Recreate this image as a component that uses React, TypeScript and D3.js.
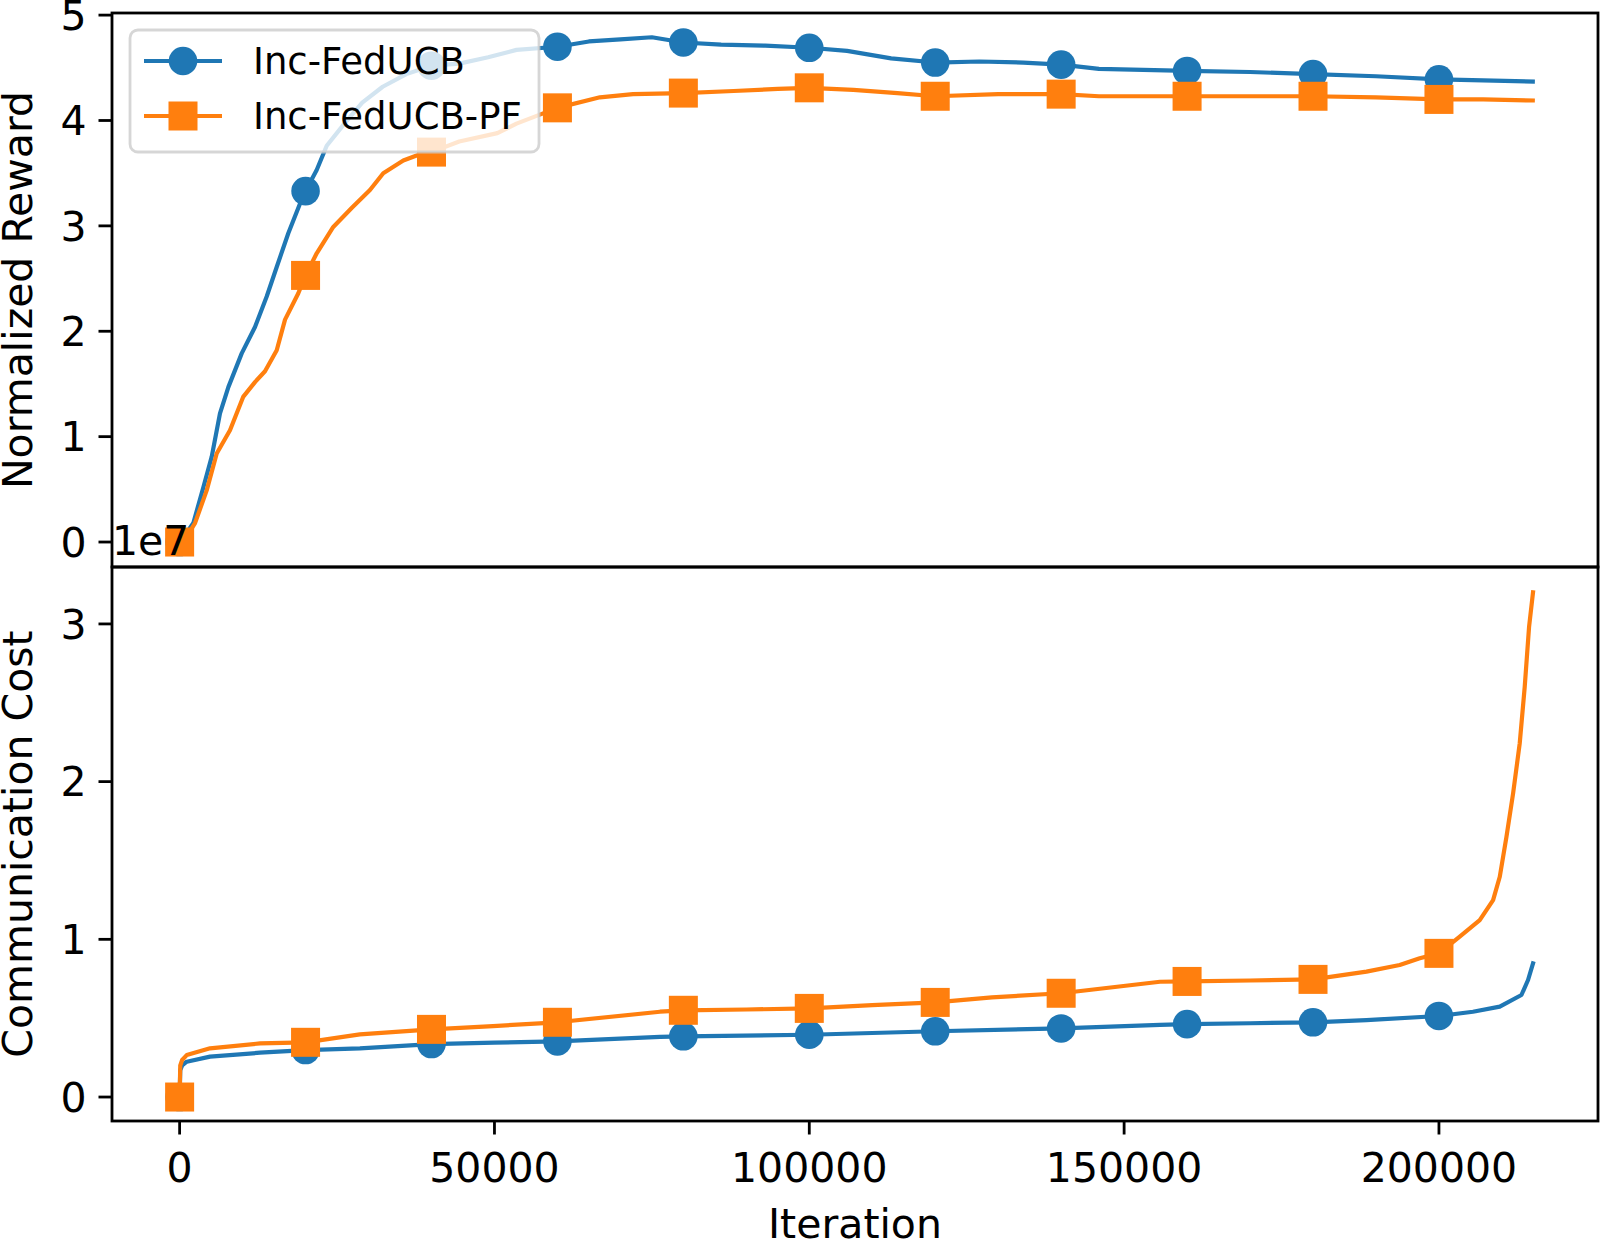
import React, { useEffect, useRef } from "react";
import * as d3 from "d3";

const WIDTH = 1600;
const HEIGHT = 1247;

// Normalized reward, [iteration, value]
const rewardFedUCB: [number, number][] = [
  [0, 0.0], [1000, 0.08], [2180, 0.18], [3770, 0.52], [5100, 0.81], [6410, 1.22],
  [7740, 1.47], [9860, 1.79], [11970, 2.04], [13830, 2.33], [15420, 2.61], [17260, 2.93],
  [19110, 3.21], [20000, 3.33], [21770, 3.53], [23360, 3.76], [26170, 3.97], [29000, 4.17],
  [32250, 4.32], [36000, 4.44], [40000, 4.52], [44400, 4.54], [49000, 4.6], [53500, 4.67],
  [60000, 4.7], [65000, 4.75], [70000, 4.77], [75000, 4.79], [80000, 4.74], [86000, 4.72],
  [93000, 4.71], [100000, 4.69], [106000, 4.66], [113000, 4.59], [120000, 4.55], [127000, 4.56],
  [134000, 4.55], [140000, 4.53], [146000, 4.49], [153000, 4.48], [160000, 4.47], [170000, 4.46],
  [180000, 4.44], [190000, 4.42], [200000, 4.39], [207000, 4.38], [214900, 4.37],
];

const rewardFedUCBPF: [number, number][] = [
  [0, 0.0], [1200, 0.06], [2450, 0.18], [4300, 0.49], [5890, 0.84], [8000, 1.06],
  [10120, 1.38], [12000, 1.52], [13560, 1.62], [15420, 1.82], [16740, 2.11], [18850, 2.36],
  [20000, 2.53], [21770, 2.74], [24400, 2.99], [27320, 3.17], [30230, 3.34], [32340, 3.5],
  [35520, 3.62], [38170, 3.68], [40000, 3.7], [44400, 3.8], [50470, 3.88], [53500, 3.97],
  [60000, 4.12], [66750, 4.22], [72000, 4.25], [80000, 4.26], [88000, 4.28], [95000, 4.3],
  [100000, 4.31], [107000, 4.29], [114000, 4.26], [120000, 4.23], [130000, 4.25], [140000, 4.25],
  [146000, 4.23], [160000, 4.23], [170000, 4.23], [180000, 4.23], [190000, 4.22], [200000, 4.2],
  [207000, 4.2], [214900, 4.19],
];

// Communication cost, in units of 1e7
const costFedUCB: [number, number][] = [
  [0, 0], [100, 0.17], [400, 0.2], [1130, 0.224], [4830, 0.256], [12770, 0.281],
  [20000, 0.298], [28630, 0.309], [40000, 0.336], [50000, 0.345], [60000, 0.353], [76280, 0.382],
  [80000, 0.385], [100000, 0.395], [120000, 0.417], [140000, 0.435], [155700, 0.457], [160000, 0.462],
  [170000, 0.468], [180000, 0.474], [188490, 0.488], [200000, 0.514], [205400, 0.541], [209660, 0.573],
  [213100, 0.647], [214150, 0.742], [214940, 0.848],
];

const costFedUCBPF: [number, number][] = [
  [0, 0], [100, 0.2], [400, 0.235], [1130, 0.266], [4830, 0.309], [12770, 0.34],
  [20000, 0.347], [28630, 0.397], [40000, 0.429], [49770, 0.45], [60000, 0.474], [76280, 0.541],
  [80000, 0.55], [90000, 0.555], [100000, 0.562], [110000, 0.583], [120000, 0.6], [129000, 0.632],
  [140000, 0.658], [155700, 0.731], [160000, 0.733], [170000, 0.739], [180000, 0.746], [188490, 0.795],
  [193770, 0.837], [196950, 0.88], [200000, 0.911], [203300, 1.017], [206480, 1.122], [208600, 1.249],
  [209660, 1.397], [210720, 1.65], [211780, 1.926], [212830, 2.243], [213620, 2.6], [214310, 2.98],
  [214940, 3.2],
];

const markerIters = [0, 20000, 40000, 60000, 80000, 100000, 120000, 140000, 160000, 180000, 200000];
const xTicks = [0, 50000, 100000, 150000, 200000];
const rewardTicks = [0, 1, 2, 3, 4, 5];
const costTicks = [0, 1, 2, 3];
const seriesNames = ["Inc-FedUCB", "Inc-FedUCB-PF"];
const seriesColors = ["#1f77b4", "#ff7f0e"];

const FONT = "DejaVu Sans";

export default function App() {
  const svgRef = useRef<SVGSVGElement>(null);

  useEffect(() => {
    const svg = d3.select(svgRef.current);
    svg.selectAll("*").remove();

    const left = 112;
    const right = 1598;
    const top1 = 13;
    const mid = 567;
    const bottom2 = 1121;
    const tickLen = 13.5;
    const spineW = 2.8;

    const x = d3.scaleLinear().domain([-10740, 225260]).range([left, right]);
    const yReward = d3.scaleLinear().domain([-0.237, 5.02]).range([mid, top1]);
    const yCost = d3.scaleLinear().domain([-0.152, 3.361]).range([bottom2, mid]);

    svg.append("rect").attr("width", WIDTH).attr("height", HEIGHT).attr("fill", "#fff");

    const drawPanel = (
      y: d3.ScaleLinear<number, number>,
      series: [number, number][][],
      yTicks: number[],
      label: string,
      id: string
    ) => {
      const [yb, yt] = y.range();
      const g = svg.append("g");

      g.append("clipPath")
        .attr("id", id)
        .append("rect")
        .attr("x", left)
        .attr("y", yt)
        .attr("width", right - left)
        .attr("height", yb - yt);

      const line = d3
        .line<[number, number]>()
        .x((d) => x(d[0]))
        .y((d) => y(d[1]));

      const plot = g.append("g").attr("clip-path", `url(#${id})`);
      series.forEach((data, i) => {
        const color = seriesColors[i];
        plot
          .append("path")
          .datum(data)
          .attr("d", line)
          .attr("fill", "none")
          .attr("stroke", color)
          .attr("stroke-width", 4.2)
          .attr("stroke-linejoin", "round")
          .attr("stroke-linecap", "square");
        const marks = data.filter((d) => markerIters.includes(d[0]));
        if (i === 0) {
          plot
            .selectAll(null)
            .data(marks)
            .enter()
            .append("circle")
            .attr("cx", (d) => x(d[0]))
            .attr("cy", (d) => y(d[1]))
            .attr("r", 14.3)
            .attr("fill", color);
        } else {
          plot
            .selectAll(null)
            .data(marks)
            .enter()
            .append("rect")
            .attr("x", (d) => x(d[0]) - 14.5)
            .attr("y", (d) => y(d[1]) - 14.5)
            .attr("width", 29)
            .attr("height", 29)
            .attr("fill", color);
        }
      });

      // y ticks
      yTicks.forEach((t) => {
        g.append("line")
          .attr("x1", left - tickLen)
          .attr("x2", left)
          .attr("y1", y(t))
          .attr("y2", y(t))
          .attr("stroke", "#000")
          .attr("stroke-width", spineW);
        g.append("text")
          .attr("x", left - tickLen - 12)
          .attr("y", y(t))
          .attr("dy", "0.36em")
          .attr("text-anchor", "end")
          .attr("font-family", FONT)
          .attr("font-size", 41)
          .text(String(t));
      });

      g.append("text")
        .attr("transform", `translate(32,${(yb + yt) / 2}) rotate(-90)`)
        .attr("text-anchor", "middle")
        .attr("font-family", FONT)
        .attr("font-size", 41)
        .text(label);

      g.append("rect")
        .attr("x", left)
        .attr("y", yt)
        .attr("width", right - left)
        .attr("height", yb - yt)
        .attr("fill", "none")
        .attr("stroke", "#000")
        .attr("stroke-width", spineW);
    };

    drawPanel(yReward, [rewardFedUCB, rewardFedUCBPF], rewardTicks, "Normalized Reward", "clip-top");
    drawPanel(yCost, [costFedUCB, costFedUCBPF], costTicks, "Communication Cost", "clip-bottom");

    // shared x axis
    xTicks.forEach((t) => {
      svg
        .append("line")
        .attr("x1", x(t))
        .attr("x2", x(t))
        .attr("y1", bottom2)
        .attr("y2", bottom2 + tickLen)
        .attr("stroke", "#000")
        .attr("stroke-width", spineW);
      svg
        .append("text")
        .attr("x", x(t))
        .attr("y", 1182)
        .attr("text-anchor", "middle")
        .attr("font-family", FONT)
        .attr("font-size", 41)
        .text(String(t));
    });

    svg
      .append("text")
      .attr("x", (left + right) / 2)
      .attr("y", 1238)
      .attr("text-anchor", "middle")
      .attr("font-family", FONT)
      .attr("font-size", 41)
      .text("Iteration");

    // offset text of the cost axis
    svg
      .append("text")
      .attr("x", left)
      .attr("y", 555)
      .attr("font-family", FONT)
      .attr("font-size", 41)
      .text("1e7");

    // legend
    const legend = svg.append("g");
    legend
      .append("rect")
      .attr("x", 130)
      .attr("y", 30)
      .attr("width", 409)
      .attr("height", 122)
      .attr("rx", 8)
      .attr("fill", "#fff")
      .attr("fill-opacity", 0.8)
      .attr("stroke", "#cccccc")
      .attr("stroke-opacity", 0.8)
      .attr("stroke-width", 2.8);

    seriesNames.forEach((name, i) => {
      const cy = 61 + i * 55;
      const color = seriesColors[i];
      legend
        .append("line")
        .attr("x1", 144)
        .attr("x2", 222)
        .attr("y1", cy)
        .attr("y2", cy)
        .attr("stroke", color)
        .attr("stroke-width", 4.2);
      if (i === 0) {
        legend.append("circle").attr("cx", 183).attr("cy", cy).attr("r", 14.3).attr("fill", color);
      } else {
        legend
          .append("rect")
          .attr("x", 183 - 14.5)
          .attr("y", cy - 14.5)
          .attr("width", 29)
          .attr("height", 29)
          .attr("fill", color);
      }
      legend
        .append("text")
        .attr("x", 253)
        .attr("y", cy)
        .attr("dy", "0.36em")
        .attr("font-family", FONT)
        .attr("font-size", 37)
        .text(name);
    });
  }, []);

  return (
    <svg
      ref={svgRef}
      width={WIDTH}
      height={HEIGHT}
      style={{ position: "absolute", left: 0, top: 0, display: "block" }}
    />
  );
}
